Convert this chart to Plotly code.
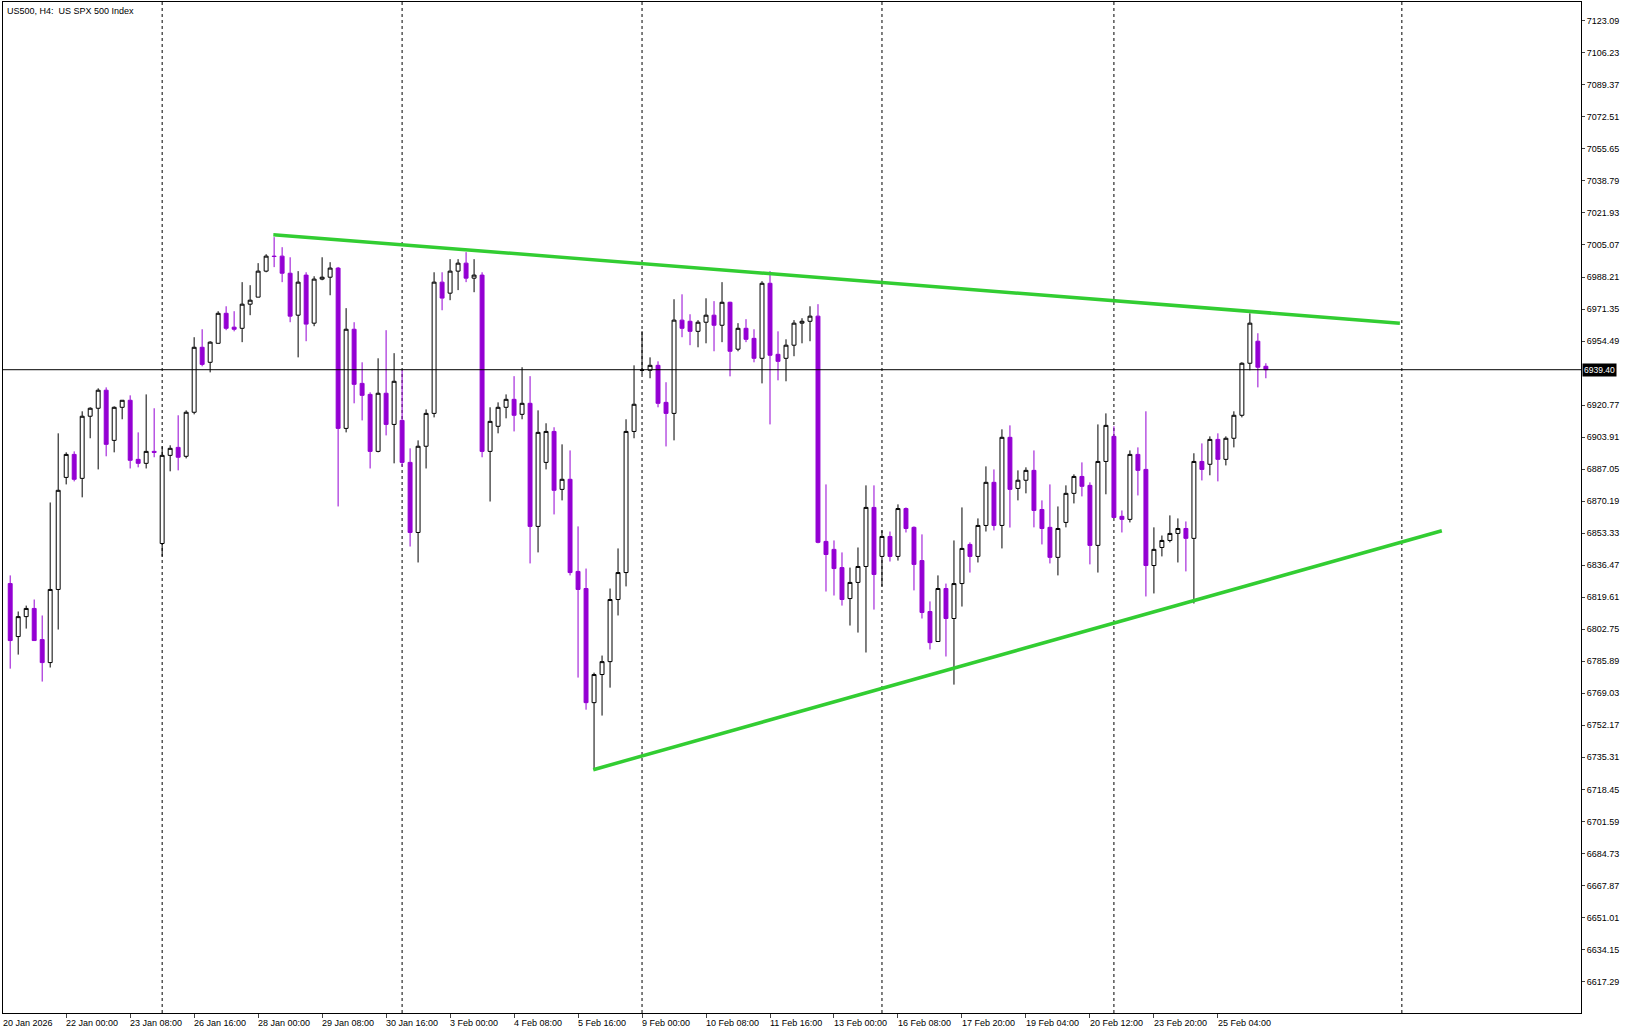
import plotly.graph_objects as go

opens = [6826.8,6798.9,6809.4,6813.7,6797.3,6785.2,6823.7,6882.7,6894.8,6882.2,6914.9,6919.1,6928.6,6902.2,6919.6,6923.3,6892.2,6890.1,6896.4,6847.9,
6894.3,6898.5,6893.8,6917.0,6951.2,6943.3,6953.3,6969.1,6961.8,6961.2,6973.9,6977.6,6991.3,6999.2,6999.2,6990.2,6968.1,6989.2,6963.9,6987.1,
6988.1,6992.9,6908.5,6960.7,6932.2,6926.4,6896.4,6927.0,6910.6,6912.7,6890.6,6853.7,6899.1,6916.4,6985.5,6979.7,6991.3,6995.5,6987.6,6989.2,
6896.4,6909.6,6919.6,6923.8,6915.9,6921.7,6856.9,6890.6,6906.9,6876.4,6881.7,6833.2,6824.2,6764.1,6778.9,6785.7,6818.4,6832.6,6906.9,6939.1,
6939.1,6941.7,6922.2,6916.4,6965.5,6964.9,6959.6,6964.4,6968.1,6962.8,6974.9,6950.2,6961.2,6955.9,6945.4,6984.9,6947.5,6945.4,6952.3,6963.9,
6964.9,6967.6,6849.0,6844.8,6835.2,6818.9,6827.4,6835.8,6866.9,6841.1,6851.6,6841.1,6866.3,6856.4,6838.9,6812.1,6796.3,6824.2,6808.4,6826.8,
6847.4,6841.1,6857.4,6880.1,6857.4,6903.8,6876.9,6881.2,6886.4,6865.8,6856.4,6840.6,6859.0,6874.3,6883.2,6878.5,6846.9,6891.1,6904.3,6862.2,
6860.6,6894.8,6886.9,6836.3,6845.8,6849.5,6853.2,6855.8,6850.6,6891.1,6889.6,6902.7,6892.2,6903.3,6915.4,6942.8,6954.4,6941.2]
highs = [6831.1,6812.1,6815.2,6818.4,6810.0,6869.5,6905.9,6895.9,6896.4,6917.5,6919.6,6929.6,6930.1,6920.1,6923.3,6925.9,6906.4,6926.4,6919.1,6899.0,
6899.6,6915.4,6918.0,6956.5,6960.7,6954.4,6970.2,6972.8,6970.2,6985.5,6983.9,6995.5,7000.2,7009.2,7003.9,6998.6,6991.3,6990.7,6988.6,6998.6,
6996.0,6993.5,6971.8,6964.4,6943.3,6927.5,6945.4,6960.2,6948.1,6939.1,6898.0,6902.2,6918.5,6990.7,6990.7,6997.6,6997.6,7001.3,6997.6,6990.7,
6919.6,6922.2,6926.4,6936.0,6940.7,6936.0,6918.0,6911.2,6909.1,6900.1,6896.9,6856.9,6834.7,6779.9,6788.9,6824.2,6845.3,6913.3,6941.7,6959.7,
6945.9,6943.8,6932.8,6976.5,6979.1,6968.6,6965.5,6977.0,6975.5,6985.5,6975.2,6963.9,6966.0,6960.7,6986.0,6991.3,6959.6,6955.4,6965.5,6966.5,
6972.8,6973.9,6879.0,6849.5,6843.2,6835.2,6845.8,6878.5,6878.5,6854.8,6854.2,6868.5,6866.9,6856.9,6852.7,6817.4,6831.1,6826.8,6849.5,6866.9,
6848.5,6861.1,6888.5,6886.9,6908.0,6910.1,6886.4,6888.0,6896.9,6870.6,6879.0,6867.4,6878.5,6884.3,6890.6,6880.1,6910.6,6916.4,6909.6,6865.3,
6896.9,6898.5,6917.5,6856.4,6852.1,6862.7,6861.1,6859.5,6895.4,6900.6,6904.3,6905.9,6904.3,6917.5,6943.3,6969.1,6958.6,6942.8]
lows = [6782.0,6789.4,6803.1,6796.8,6775.2,6782.6,6802.6,6879.0,6880.6,6872.2,6903.3,6886.9,6893.8,6895.9,6913.3,6887.4,6888.0,6887.4,6893.3,6841.1,
6885.9,6886.4,6892.7,6915.9,6941.2,6938.0,6953.3,6960.2,6959.6,6953.9,6968.1,6977.6,6990.7,6993.4,6985.5,6964.4,6945.9,6954.4,6962.3,6986.5,
6978.6,6867.4,6906.4,6921.7,6912.7,6887.4,6895.9,6904.8,6890.1,6888.5,6846.3,6837.9,6887.4,6914.3,6970.7,6976.0,6981.3,6985.5,6980.2,6893.3,
6870.0,6905.9,6913.8,6906.9,6913.3,6837.4,6843.2,6886.9,6863.2,6870.6,6831.1,6777.3,6760.4,6728.8,6757.3,6772.0,6810.0,6825.3,6903.3,6937.0,
6934.9,6919.6,6899.0,6902.2,6956.5,6952.3,6951.2,6953.3,6949.1,6953.9,6935.9,6949.1,6953.9,6943.3,6932.2,6910.6,6933.8,6933.3,6946.5,6953.3,
6954.4,6848.0,6822.6,6820.5,6815.2,6804.7,6801.0,6790.5,6813.1,6825.3,6838.4,6838.9,6853.7,6823.2,6808.4,6792.1,6796.3,6788.4,6773.6,6814.7,
6832.6,6837.9,6854.2,6854.8,6845.3,6856.3,6870.6,6874.3,6856.4,6847.4,6837.4,6831.1,6856.4,6869.0,6872.7,6836.9,6832.6,6873.8,6861.2,6853.7,
6859.0,6873.2,6820.0,6821.6,6841.1,6848.5,6837.9,6833.2,6816.3,6881.1,6883.8,6880.6,6889.0,6898.5,6914.3,6939.1,6930.1,6934.9]
closes = [6796.8,6809.4,6813.7,6796.8,6785.2,6823.7,6875.9,6894.8,6881.7,6914.9,6919.1,6928.6,6900.1,6919.6,6923.3,6891.7,6890.1,6896.4,6895.9,6894.3,
6898.0,6893.3,6917.0,6951.2,6942.2,6953.9,6969.1,6961.2,6960.7,6973.9,6976.0,6991.3,6999.2,6999.0,6990.2,6967.6,6985.5,6963.4,6987.1,6988.1,
6992.9,6908.5,6960.7,6931.7,6925.9,6896.4,6927.0,6910.6,6933.3,6890.6,6853.7,6899.1,6916.4,6985.5,6977.1,6991.3,6995.5,6987.6,6989.2,6896.4,
6912.2,6919.6,6923.8,6915.4,6921.7,6856.9,6906.4,6906.9,6875.9,6881.7,6832.6,6823.7,6764.1,6778.9,6785.7,6818.4,6832.6,6906.9,6921.2,6939.2,
6941.7,6921.7,6916.4,6965.5,6961.2,6959.6,6964.4,6968.1,6962.8,6974.9,6949.1,6961.2,6955.4,6945.4,6984.9,6947.0,6943.8,6952.3,6963.9,6964.9,
6967.6,6848.5,6842.1,6834.7,6818.4,6827.4,6835.8,6866.9,6831.6,6851.6,6841.1,6866.3,6855.8,6836.9,6811.6,6795.7,6824.2,6808.4,6826.8,6845.3,
6841.1,6857.4,6880.1,6857.4,6903.8,6876.4,6881.2,6886.4,6865.3,6855.8,6840.6,6855.8,6874.3,6883.2,6878.0,6846.9,6891.1,6910.1,6861.6,6860.6,
6894.8,6886.4,6836.3,6844.8,6849.5,6853.2,6855.8,6850.6,6891.1,6886.9,6902.7,6892.2,6903.3,6915.4,6942.8,6963.9,6940.7,6939.4]

bar_index = list(range(len(opens)))

date_labels = ["20 Jan 2026","22 Jan 00:00","23 Jan 08:00","26 Jan 16:00","28 Jan 00:00","29 Jan 08:00","30 Jan 16:00",
               "3 Feb 00:00","4 Feb 08:00","5 Feb 16:00","9 Feb 00:00","10 Feb 08:00","11 Feb 16:00","13 Feb 00:00",
               "16 Feb 08:00","17 Feb 20:00","19 Feb 04:00","20 Feb 12:00","23 Feb 20:00","25 Feb 04:00"]
date_label_idx = [-0.9,7,15,23,31,39,47,55,63,71,79,87,95,103,111,119,127,135,143,151]
week_sep_idx = [19,49,79,109,138,174]

price_ticks = [7123.09,7106.23,7089.37,7072.51,7055.65,7038.79,7021.93,7005.07,6988.21,6971.35,6954.49,
               6920.77,6903.91,6887.05,6870.19,6853.33,6836.47,6819.61,6802.75,6785.89,6769.03,6752.17,
               6735.31,6718.45,6701.59,6684.73,6667.87,6651.01,6634.15,6617.29]
last_price = 6939.40

upper_x = [32.9, 173.75]
upper_y = [7010.5, 6963.9]
lower_x = [72.9, 179.0]
lower_y = [6728.8, 6854.6]

x_range = [-0.9, 196.4]
y_range = [6600.7, 7133.0]

FONT = "Liberation Sans, Arial, sans-serif"

fig = go.Figure()
fig.add_trace(go.Candlestick(
    x=bar_index, open=opens, high=highs, low=lows, close=closes,
    increasing=dict(line=dict(color="black", width=1), fillcolor="white"),
    decreasing=dict(line=dict(color="#9400D3", width=1), fillcolor="#9400D3"),
    whiskerwidth=0, showlegend=False))
fig.add_trace(go.Scatter(x=upper_x, y=upper_y, mode="lines", line=dict(color="#32CD32", width=3.5), showlegend=False))
fig.add_trace(go.Scatter(x=lower_x, y=lower_y, mode="lines", line=dict(color="#32CD32", width=3.5), showlegend=False))

shapes = []
for xi in week_sep_idx:
    shapes.append(dict(type="line", xref="x", yref="paper", x0=xi, x1=xi, y0=0, y1=1,
                       line=dict(color="black", width=1, dash="dot"), layer="below"))
shapes.append(dict(type="line", xref="paper", yref="y", x0=0, x1=1, y0=last_price, y1=last_price,
                   line=dict(color="black", width=1)))
annotations = []
for lab, xi in zip(date_labels, date_label_idx):
    annotations.append(dict(x=xi, y=0, xref="x", yref="paper", yshift=-3, text=lab, showarrow=False,
                            xanchor="left", yanchor="top", xshift=-2, font=dict(size=9, color="black")))
annotations.append(dict(x=1, y=last_price, xref="paper", yref="y", text=f"{last_price:.2f}", showarrow=False,
                        xanchor="left", yanchor="middle", xshift=1, bgcolor="black", borderpad=1,
                        font=dict(size=8.5, color="white")))
annotations.append(dict(x=0, y=1, xref="paper", yref="paper", text="US500, H4:  US SPX 500 Index", showarrow=False,
                        xanchor="left", yanchor="top", xshift=2, yshift=-2, font=dict(size=9, color="black")))

fig.update_layout(
    width=1634, height=1035, paper_bgcolor="white", plot_bgcolor="white",
    margin=dict(l=3, r=53, t=2, b=22, autoexpand=False),
    font=dict(family=FONT, size=9, color="black"),
    shapes=shapes, annotations=annotations, showlegend=False,
    xaxis=dict(range=x_range, showgrid=False, zeroline=False, rangeslider=dict(visible=False),
               tickvals=date_label_idx[1:], ticktext=[""]*(len(date_label_idx)-1), ticks="outside", ticklen=4,
               showline=True, linecolor="black", mirror=True, fixedrange=True),
    yaxis=dict(range=y_range, side="right", showgrid=False, zeroline=False, tickvals=price_ticks,
               ticktext=[f"{v:.2f}" for v in price_ticks], ticks="outside", ticklen=3,
               showline=True, linecolor="black", mirror=True, fixedrange=True, tickfont=dict(size=9)),
)
fig.write_html("out.html", config={"displayModeBar": False},
               post_script="document.body.style.margin='0';document.body.style.overflow='hidden';")
